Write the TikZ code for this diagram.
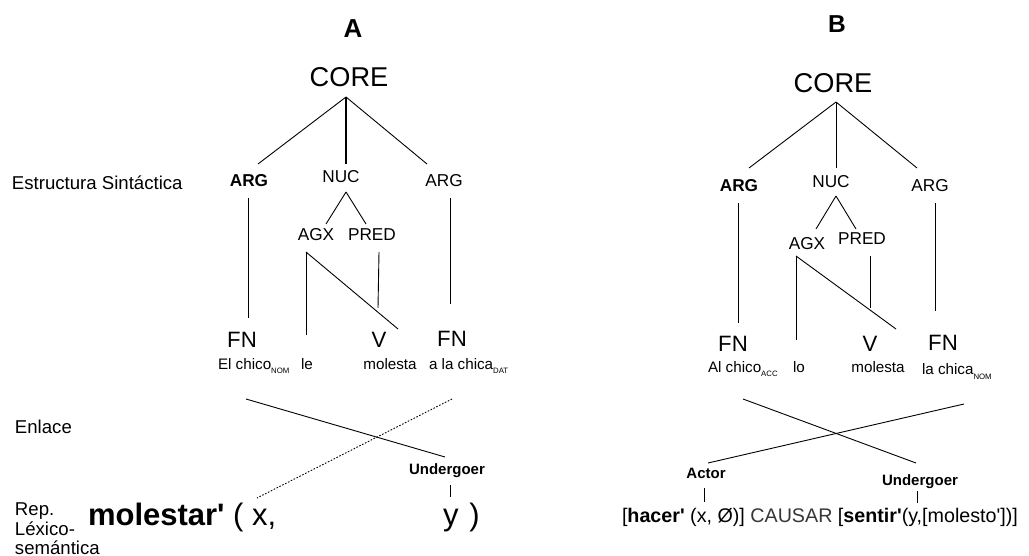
\documentclass[tikz,border=0pt]{standalone}
\usepackage{fontspec}
\setmainfont{Liberation Sans}[Ligatures=TeXOff]
\definecolor{causargray}{RGB}{55,55,55}
\newcommand{\sbs}[1]{\raisebox{-5pt}{\fontsize{7.8}{8}\selectfont #1}}
\newcommand{\sq}{\symbol{"27}}
\begin{document}
\begin{tikzpicture}[x=1pt,y=-1pt,
  every node/.style={inner sep=0pt, outer sep=0pt},
  lbl/.style={font=\fontsize{18.6}{20}\selectfont},
  ttl/.style={font=\fontsize{26}{28}\selectfont\bfseries, anchor=base},
  big/.style={font=\fontsize{27.2}{29}\selectfont, anchor=base},
  mid/.style={font=\fontsize{17.2}{18}\selectfont, anchor=base},
  fn/.style={font=\fontsize{22.2}{24}\selectfont, anchor=base},
  word/.style={font=\fontsize{15.2}{16}\selectfont, anchor=base},
  role/.style={font=\fontsize{15}{16}\selectfont\bfseries, anchor=base},
  ln/.style={line width=0.9pt},
  dot/.style={line width=0.9pt, dash pattern=on 1.6pt off 1.6pt}]
\useasboundingbox (0,0) rectangle (1029,556);

% ---------- left labels ----------
\node[lbl,anchor=base west] (es) at (12,190) {Estructura Sintáctica};
\node[lbl,anchor=base west] (en) at (15,433) {Enlace};
\node[lbl,anchor=base west] (rep1) at (15,515) {Rep.};
\node[lbl,anchor=base west] (rep2) at (15,535) {Léxico-};
\node[lbl,anchor=base west] (rep3) at (15,554) {semántica};

% ---------- panel A ----------
\node[ttl] (tA) at (353,38) {A};
\node[big] (coreA) at (349,87) {CORE};
\node[mid,font=\fontsize{17.2}{18}\selectfont\bfseries] (argLA) at (249,187) {ARG};
\node[mid] (nucA) at (341,183) {NUC};
\node[mid] (argRA) at (444,187) {ARG};
\node[mid] (agxA) at (316,241) {AGX};
\node[mid] (predA) at (372,241) {PRED};
\node[fn] (fnLA) at (242,348) {FN};
\node[fn] (vA) at (379,348) {V};
\node[fn] (fnRA) at (452,347) {FN};
\node[word,anchor=base west] (chicoA) at (218,369) {El chico\sbs{NOM}};
\node[word] (leA) at (307,369) {le};
\node[word] (molA) at (390,369) {molesta};
\node[word,anchor=base west] (chicaA) at (429,369) {a la chica\sbs{DAT}};
\node[role] (undA) at (447,474) {Undergoer};
\node[anchor=base west,font=\fontsize{31}{33}\selectfont] (semA) at (88,525) {\textbf{molestar\sq} ( x,};
\node[anchor=base west,font=\fontsize{31}{33}\selectfont] (semAy) at (443,525) {y\hspace{11pt})};

\coordinate (cA) at (346,97);
\coordinate (argLAt) at (258,164);
\coordinate (nucAt) at (346,164);
\coordinate (argRAt) at (427,164);
\coordinate (nucAb) at (346,192);
\coordinate (agxAt) at (326,224);
\coordinate (predAt) at (366,224);
\coordinate (agxAb) at (306,252);
\coordinate (leAt) at (306,335);
\coordinate (vAd) at (398,329);
\coordinate (predAb) at (379,252);
\coordinate (predAe) at (378,308);
\coordinate (argLAb) at (248,198);
\coordinate (argLAe) at (248,318);
\coordinate (argRAb) at (450,198);
\coordinate (argRAe) at (450,304);
\coordinate (lkA1s) at (246,399);
\coordinate (lkA1e) at (445,457);
\coordinate (lkA2s) at (452,399);
\coordinate (lkA2e) at (257,498);
\coordinate (tkA1) at (450,485);
\coordinate (tkA2) at (450,497);

\draw[ln] (cA) -- (argLAt);
\draw[line width=1.8pt] (cA) -- (nucAt);
\draw[ln] (cA) -- (argRAt);
\draw[ln] (nucAb) -- (agxAt);
\draw[ln] (nucAb) -- (predAt);
\draw[ln] (agxAb) -- (leAt);
\draw[ln] (agxAb) -- (vAd);
\draw[ln] (predAb) -- (predAe);
\draw[ln] (argLAb) -- (argLAe);
\draw[ln] (argRAb) -- (argRAe);
\draw[ln] (lkA1s) -- (lkA1e);
\draw[dot] (lkA2s) -- (lkA2e);
\draw[ln] (tkA1) -- (tkA2);

% ---------- panel B ----------
\node[ttl,font=\fontsize{24.5}{28}\selectfont\bfseries] (tB) at (837,33) {B};
\node[big] (coreB) at (833,93) {CORE};
\node[mid,font=\fontsize{17.2}{18}\selectfont\bfseries] (argLB) at (739,192) {ARG};
\node[mid] (nucB) at (831,188) {NUC};
\node[mid] (argRB) at (930,192) {ARG};
\node[mid] (agxB) at (807,250) {AGX};
\node[mid] (predB) at (862,245) {PRED};
\node[fn] (fnLB) at (733,352) {FN};
\node[fn] (vB) at (870,352) {V};
\node[fn] (fnRB) at (943,351) {FN};
\node[word,anchor=base west] (chicoB) at (708,372) {Al chico\sbs{ACC}};
\node[word] (loB) at (799,372) {lo};
\node[word] (molB) at (878,372) {molesta};
\node[word,anchor=base west] (chicaB) at (922,374) {la chica\sbs{NOM}};
\node[role] (actB) at (706,478) {Actor};
\node[role] (undB) at (920,485) {Undergoer};
\node[anchor=base west,font=\fontsize{19.7}{22}\selectfont] (semB) at (622,522)
  {[\textbf{hacer\sq} (x, Ø)] \textcolor{causargray}{CAUSAR} [\textbf{sentir\sq}(y,[molesto\sq])]};

\coordinate (cB) at (836,102);
\coordinate (argLBt) at (749,168);
\coordinate (nucBt) at (836,168);
\coordinate (argRBt) at (917,168);
\coordinate (nucBb) at (836,196);
\coordinate (agxBt) at (816,229);
\coordinate (predBt) at (856,229);
\coordinate (argLBb) at (738,203);
\coordinate (argLBe) at (738,323);
\coordinate (agxBb) at (796,256);
\coordinate (loBt) at (796,340);
\coordinate (vBd) at (896,329);
\coordinate (predBb) at (870,256);
\coordinate (predBe) at (870,308);
\coordinate (argRBb) at (935,203);
\coordinate (argRBe) at (935,311);
\coordinate (lkB1s) at (743,399);
\coordinate (lkB1e) at (916,463);
\coordinate (lkB2s) at (964,404);
\coordinate (lkB2e) at (708,463);
\coordinate (tkB1) at (704,488);
\coordinate (tkB2) at (704,502);
\coordinate (tkB3) at (917,491);
\coordinate (tkB4) at (917,503);

\draw[ln] (cB) -- (argLBt);
\draw[ln] (cB) -- (nucBt);
\draw[ln] (cB) -- (argRBt);
\draw[ln] (nucBb) -- (agxBt);
\draw[ln] (nucBb) -- (predBt);
\draw[ln] (argLBb) -- (argLBe);
\draw[ln] (agxBb) -- (loBt);
\draw[ln] (agxBb) -- (vBd);
\draw[ln] (predBb) -- (predBe);
\draw[ln] (argRBb) -- (argRBe);
\draw[ln] (lkB1s) -- (lkB1e);
\draw[ln] (lkB2s) -- (lkB2e);
\draw[ln] (tkB1) -- (tkB2);
\draw[ln] (tkB3) -- (tkB4);
\end{tikzpicture}
\end{document}
